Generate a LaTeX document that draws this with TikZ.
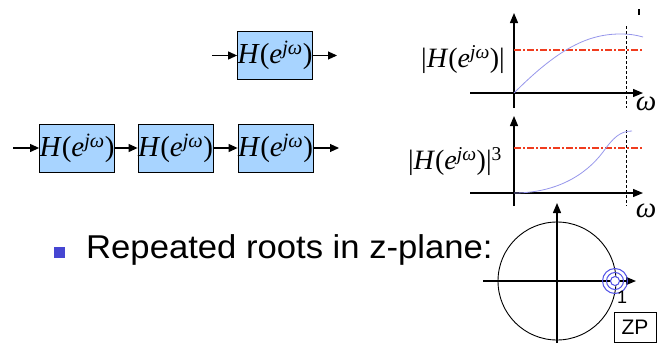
\documentclass[tikz,border=0pt]{standalone}
\usepackage{fontspec}
\setmainfont{Liberation Serif}
\newfontfamily\arialfont{Liberation Sans}
\usetikzlibrary{arrows.meta}

\definecolor{boxblue}{RGB}{168,212,255}
\definecolor{bulletblue}{RGB}{70,70,210}
\definecolor{curveblue}{RGB}{150,150,235}
\definecolor{rootblue}{RGB}{80,80,230}
\definecolor{levelred}{RGB}{240,60,30}

\newcommand{\Hjw}{\textit{H}(\textit{e}\textsuperscript{\textit{jω}})}

\begin{document}
\begin{tikzpicture}[
          x=1pt, y=-1pt,
          every node/.style={inner sep=0pt},
          arr/.style={line width=1.1pt, -{Triangle[length=9pt, width=8pt]}},
          block/.style={draw, line width=0.9pt, fill=boxblue, minimum width=74pt,
            minimum height=48pt, font=\fontsize{29}{29}\selectfont},
          axis/.style={line width=1.3pt, -{Triangle[length=10pt, width=8pt]}},
          level/.style={levelred, line width=1.1pt, dash pattern=on 7pt off 2pt on 2pt off 2pt},
          cutoff/.style={line width=0.9pt, dash pattern=on 3pt off 2pt},
          resp/.style={curveblue, line width=0.8pt},
          maglabel/.style={font=\fontsize{28}{28}\selectfont},
          omlabel/.style={font=\fontsize{29}{29}\selectfont\itshape}
        ]
        \useasboundingbox (0,0) rectangle (658,343);

        % Single filter
        \node[block] (top) at (275,55.5) {\Hjw};
        \coordinate (topin) at (212,55.5);
        \coordinate (topout) at (337,55.5);
        \draw[arr] (topin) -- (top);
        \draw[arr] (top) -- (topout);

        % Three filters in cascade
        \node[block] (c1) at (77,148) {\Hjw};
        \node[block] (c2) at (175.5,148) {\Hjw};
        \node[block] (c3) at (275.5,148) {\Hjw};
        \coordinate (cin) at (13,148);
        \coordinate (cout) at (339,148);
        \draw[arr] (cin) -- (c1);
        \draw[arr] (c1) -- (c2);
        \draw[arr] (c2) -- (c3);
        \draw[arr] (c3) -- (cout);

        % Magnitude of one filter
        \coordinate (o1) at (514,93);
        \coordinate (y1b) at (514,108);
        \coordinate (y1t) at (514,13);
        \coordinate (x1l) at (470,93);
        \coordinate (x1r) at (643,93);
        \draw[axis] (y1b) -- (y1t);
        \draw[axis] (x1l) -- (x1r);
        \draw[level] (514,50) -- (643,50);
        \draw[cutoff] (626,26) -- (626,108);
        \draw[line width=1.3pt] (639,9) -- (639,15);
        \draw[resp] (o1) .. controls (555,52) and (585,34) .. (620,34)
          .. controls (630,34) and (636,35) .. (643,37);
        \node[maglabel] (m1) at (463,60) {|\Hjw|};
        \node[omlabel] (w1) at (646,104) {ω};

        % Magnitude of the cascade
        \coordinate (o2) at (514,193);
        \coordinate (y2b) at (514,206);
        \coordinate (y2t) at (514,116);
        \coordinate (x2l) at (470,193);
        \coordinate (x2r) at (643,193);
        \draw[axis] (y2b) -- (y2t);
        \draw[axis] (x2l) -- (x2r);
        \draw[level] (514,148) -- (643,148);
        \draw[cutoff] (626,130) -- (626,206);
        \draw[resp] (o2) .. controls (555,193) and (585,176) .. (603,152)
          .. controls (613,138) and (620,131) .. (632,131);
        \node[maglabel] (m3) at (455,162) {|\Hjw|\textsuperscript{3}};
        \node[omlabel] (w2) at (646,211) {ω};

        % Bullet text
        \node[fill=bulletblue, minimum size=11pt] (dot) at (59,252) {};
        \node[anchor=base west, font=\arialfont\fontsize{33}{33}\selectfont, xscale=1.05]
          (txt) at (86,258) {Repeated roots in z-plane:};

        % z-plane
        \coordinate (zc) at (557,281);
        \coordinate (zb) at (557,343);
        \coordinate (zt) at (557,203);
        \coordinate (zl) at (483,281);
        \coordinate (zr) at (636,281);
        \draw[line width=0.9pt] (zc) circle[radius=59];
        \draw[axis] (zb) -- (zt);
        \draw[axis] (zl) -- (zr);
        \draw[rootblue, line width=1pt] (615,281) circle[radius=12.5];
        \draw[rootblue, line width=1pt] (615,281) circle[radius=8.5];
        \draw[rootblue, line width=1pt, fill=white] (615,281) circle[radius=4.5];
        \node[font=\arialfont\fontsize{18}{18}\selectfont] (one) at (622,297) {1};
        \node[draw, line width=0.9pt, minimum width=42pt, minimum height=30pt,
          font=\arialfont\fontsize{21}{21}\selectfont] (zp) at (635,327) {ZP};

      \end{tikzpicture}
\end{document}
